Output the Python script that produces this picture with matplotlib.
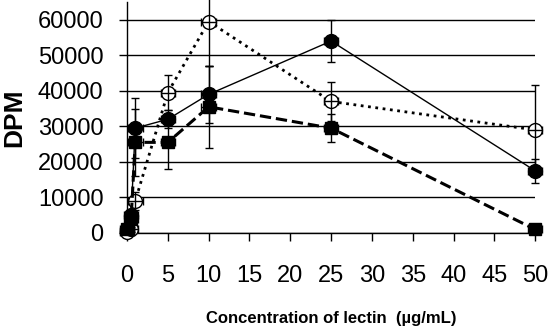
import matplotlib.pyplot as plt

plt.rcParams['font.family'] = ['Liberation Sans', 'DejaVu Sans']

conc = [0, 0.5, 1, 5, 10, 25, 50]
conc_err = [0.9, 0.9, 0.9, 0.9, 0.9, 0.9, 0.9]

filled_circle = [500, 5000, 29500, 32000, 39000, 54000, 17500]
filled_circle_err = [500, 1000, 8500, 2500, 8000, 6000, 3300]

open_circle = [300, 1000, 9000, 39500, 59500, 37000, 29000]
open_circle_err = [300, 800, 2500, 5000, 12500, 5500, 12500]

filled_square = [1000, 4000, 25500, 25500, 35500, 29500, 1000]
filled_square_err = [600, 1000, 9500, 7500, 11500, 4000, 500]

yticks = [0, 10000, 20000, 30000, 40000, 50000, 60000]
xticks = [0, 5, 10, 15, 20, 25, 30, 35, 40, 45, 50]

fig = plt.figure(figsize=(5.5, 3.27), dpi=100)
ax = fig.add_axes([0.231, 0.2875, 0.742, 0.7065])

series = [
    (filled_circle, filled_circle_err, 'o', '-', 1, 'black', 10),
    (open_circle, open_circle_err, 'o', ':', 2, 'white', 10),
    (filled_square, filled_square_err, 's', '--', 2.2, 'black', 9),
]
for y, yerr, mk, ls, lw, mfc, ms in series:
    ax.plot(conc, y, marker=mk, ls=ls, lw=lw, color='black', mfc=mfc,
            mec='black', ms=ms, clip_on=False, zorder=3)
    ax.errorbar(conc, y, yerr=yerr, xerr=conc_err, fmt='none',
                ecolor='black', elinewidth=1, capsize=3, clip_on=False,
                zorder=4)

ax.set_xlim(0, 50)
ax.set_ylim(0, 65000)
ax.set_xticks(xticks)
ax.set_yticks(yticks)
ax.grid(axis='y', color='black', lw=1)
ax.set_axisbelow(True)
for s in ['top', 'right']:
    ax.spines[s].set_visible(False)
ax.spines['left'].set_linewidth(1)
ax.spines['bottom'].set_linewidth(1)
ax.tick_params(axis='y', length=6, width=1, pad=11, labelsize=17)
ax.tick_params(axis='x', length=6, width=1, pad=17, labelsize=17)

ax.set_ylabel('DPM', fontsize=19, fontweight='bold', labelpad=8)
ax.set_xlabel('Concentration of lectin  (µg/mL)', fontsize=12,
              fontweight='bold', labelpad=17)

fig.savefig('out.png', dpi=100)
